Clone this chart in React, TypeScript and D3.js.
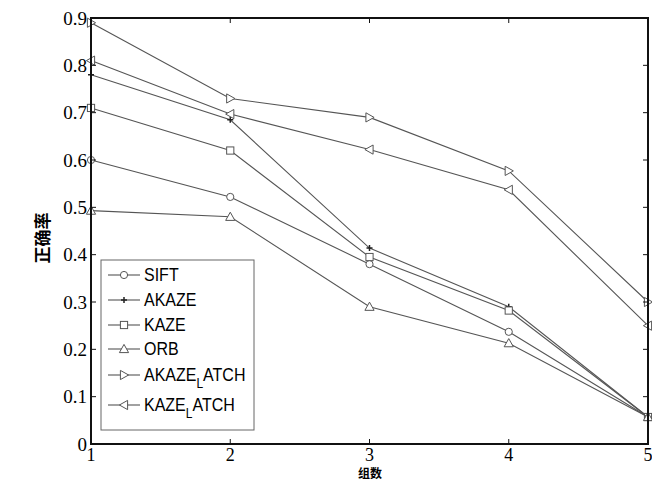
import React from "react";
import * as d3 from "d3";

// x categories (组数) and y ticks
const groups = [1, 2, 3, 4, 5];
const yTicks = [0, 0.1, 0.2, 0.3, 0.4, 0.5, 0.6, 0.7, 0.8, 0.9];

// accuracy per series
const sift = [0.6, 0.522, 0.38, 0.237, 0.057];
const akaze = [0.78, 0.685, 0.414, 0.29, 0.057];
const kaze = [0.71, 0.62, 0.395, 0.282, 0.057];
const orb = [0.493, 0.48, 0.29, 0.213, 0.057];
const akazeLatch = [0.89, 0.73, 0.69, 0.577, 0.3];
const kazeLatch = [0.81, 0.697, 0.622, 0.537, 0.25];

const seriesNames = ["SIFT", "AKAZE", "KAZE", "ORB", "AKAZE_LATCH", "KAZE_LATCH"];
const seriesValues = [sift, akaze, kaze, orb, akazeLatch, kazeLatch];
const seriesMarkers = ["circle", "plus", "square", "up", "right", "left"];

const width = 652;
const height = 482;
const left = 91, right = 648, top = 18, bottom = 444;
const lineColor = "#555";

function Marker({ kind, x, y }: { kind: string; x: number; y: number }) {
  const s = 3.6;
  const common = { fill: "white", stroke: lineColor, strokeWidth: 1 };
  if (kind === "circle") return <circle cx={x} cy={y} r={s} {...common} />;
  if (kind === "square") return <rect x={x - s} y={y - s} width={2 * s} height={2 * s} {...common} />;
  if (kind === "plus")
    return (
      <path d={`M${x - 3},${y}H${x + 3}M${x},${y - 3}V${y + 3}`} stroke="#222" strokeWidth={1.5} fill="none" />
    );
  let d = "";
  if (kind === "up") d = `M${x},${y - s - 1}L${x + s + 1},${y + s}L${x - s - 1},${y + s}Z`;
  if (kind === "right") d = `M${x + s + 1},${y}L${x - s},${y - s - 1}L${x - s},${y + s + 1}Z`;
  if (kind === "left") d = `M${x - s - 1},${y}L${x + s},${y - s - 1}L${x + s},${y + s + 1}Z`;
  return <path d={d} {...common} />;
}

function Label({ name, x, y }: { name: string; x: number; y: number }) {
  const parts = name.split("_");
  const style = { fontFamily: "'Liberation Sans', Arial, sans-serif", fontSize: 16 };
  // the source text is a bit taller than wide
  const tf = `translate(${x},${y}) scale(1,1.15)`;
  if (parts.length === 1)
    return (
      <text transform={tf} dy="0.35em" {...style}>
        {name}
      </text>
    );
  return (
    <text transform={tf} dy="0.35em" {...style}>
      {parts[0]}
      <tspan dy={6} fontSize={12}>
        {parts[1][0]}
      </tspan>
      <tspan dy={-6}>{parts[1].slice(1)}</tspan>
    </text>
  );
}

export default function App() {
  const x = d3.scaleLinear().domain([1, 5]).range([left, right]);
  const y = d3.scaleLinear().domain([0, 0.9]).range([bottom, top]);
  const line = d3
    .line<number>()
    .x((_, i) => x(groups[i]))
    .y((d) => y(d));

  const legendRows = [275, 300, 325, 349, 375, 405];

  return (
    <svg width={width} height={height} style={{ position: "absolute", left: 0, top: 0, background: "white" }}>
      {/* series lines */}
      {seriesValues.map((vals, si) => (
        <g key={si}>
          <path d={line(vals) || ""} fill="none" stroke={lineColor} strokeWidth={1.1} />
          {vals.map((v, i) => (
            <Marker key={i} kind={seriesMarkers[si]} x={x(groups[i])} y={y(v)} />
          ))}
        </g>
      ))}

      {/* frame */}
      <rect x={left} y={top} width={right - left} height={bottom - top} fill="none" stroke="#111" strokeWidth={2} />

      {/* y ticks */}
      {yTicks.map((t) => (
        <g key={t}>
          <line x1={left} x2={left + 5} y1={y(t)} y2={y(t)} stroke="#111" />
          <line x1={right} x2={right - 5} y1={y(t)} y2={y(t)} stroke="#111" />
          <text
            x={left - 4}
            y={y(t)}
            dy="0.35em"
            textAnchor="end"
            fontFamily="'Liberation Serif', 'Times New Roman', serif"
            fontSize={19}
          >
            {d3.format("")(t)}
          </text>
        </g>
      ))}

      {/* x ticks */}
      {groups.map((g) => (
        <g key={g}>
          <line x1={x(g)} x2={x(g)} y1={bottom} y2={bottom - 5} stroke="#111" />
          <line x1={x(g)} x2={x(g)} y1={top} y2={top + 5} stroke="#111" />
          <text
            x={x(g)}
            y={bottom + 17}
            textAnchor="middle"
            fontFamily="'Liberation Serif', 'Times New Roman', serif"
            fontSize={18}
          >
            {g}
          </text>
        </g>
      ))}

      {/* axis titles */}
      <text
        transform={`translate(49,238) rotate(-90)`}
        textAnchor="middle"
        fontFamily="'Noto Sans CJK SC', sans-serif"
        fontWeight="bold"
        fontSize={17}
      >
        正确率
      </text>
      <text
        x={370}
        y={478}
        textAnchor="middle"
        fontFamily="'Noto Sans CJK SC', sans-serif"
        fontWeight="bold"
        fontSize={12}
      >
        组数
      </text>

      {/* legend */}
      <rect x={101} y={260} width={153} height={170} fill="white" stroke="#666" strokeWidth={1} />
      {seriesNames.map((name, i) => (
        <g key={name}>
          <line x1={108} x2={140} y1={legendRows[i]} y2={legendRows[i]} stroke={lineColor} strokeWidth={1.1} />
          <Marker kind={seriesMarkers[i]} x={124} y={legendRows[i]} />
          <Label name={name} x={144} y={legendRows[i]} />
        </g>
      ))}
    </svg>
  );
}
